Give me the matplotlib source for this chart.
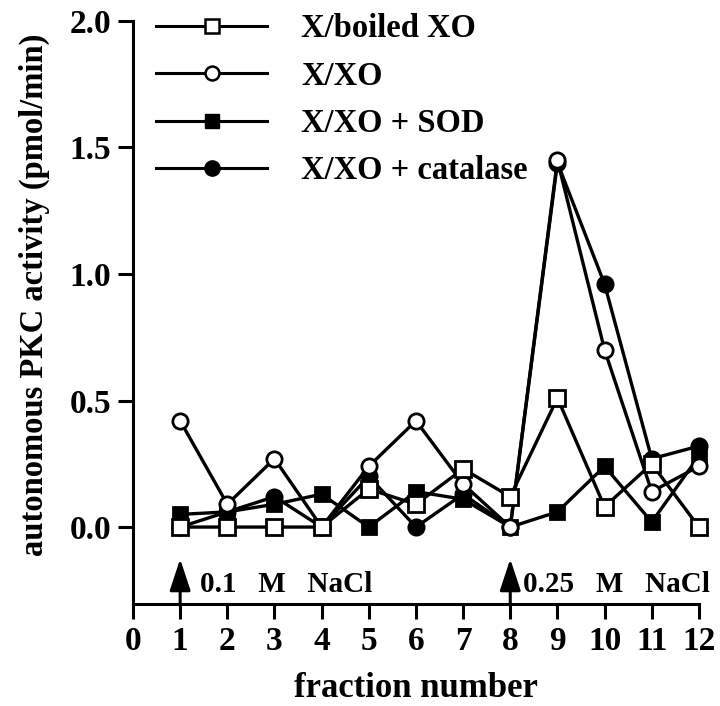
import matplotlib.pyplot as plt
from matplotlib.lines import Line2D

plt.rcParams['font.family'] = ['Liberation Serif', 'DejaVu Serif']
plt.rcParams['font.weight'] = 'bold'

fractions = [1, 2, 3, 4, 5, 6, 7, 8, 9, 10, 11, 12]
boiled_xo = [0.0, 0.0, 0.0, 0.0, 0.15, 0.09, 0.23, 0.12, 0.51, 0.08, 0.25, 0.0]
x_xo = [0.42, 0.09, 0.27, 0.0, 0.24, 0.42, 0.17, 0.0, 1.45, 0.70, 0.14, 0.24]
x_xo_sod = [0.05, 0.06, 0.09, 0.13, 0.0, 0.14, 0.11, 0.0, 0.06, 0.24, 0.02, 0.28]
x_xo_catalase = [0.0, 0.06, 0.12, 0.0, 0.20, 0.0, 0.13, 0.0, 1.44, 0.96, 0.27, 0.32]

labels = ["X/boiled XO", "X/XO", "X/XO + SOD", "X/XO + catalase"]
x_ticks = list(range(0, 13))
y_ticks = [0.0, 0.5, 1.0, 1.5, 2.0]
salt_steps = [1, 8]
salt_labels = ["0.1   M   NaCl", "0.25   M   NaCl"]

fig = plt.figure(figsize=(7.2, 7.06), dpi=100)
ax = fig.add_axes([0.1847, 0.1445, 0.786, 0.8258])

lw = 2.4
ms = 11
mew = 2.0
# drawing order chosen so the overlaps look like the original
ax.plot(fractions, x_xo_sod, color='black', lw=lw, marker='s', ms=ms - 1,
        mfc='black', mec='black', mew=mew, zorder=2, clip_on=False)
ax.plot(fractions, x_xo_catalase, color='black', lw=lw, marker='o', ms=ms,
        mfc='black', mec='black', mew=mew, zorder=3, clip_on=False)
ax.plot(fractions, x_xo, color='black', lw=lw, marker='o', ms=ms,
        mfc='white', mec='black', mew=mew, zorder=4, clip_on=False)
ax.plot(fractions, boiled_xo, color='black', lw=lw, marker='s', ms=ms,
        mfc='white', mec='black', mew=mew, zorder=5, clip_on=False)

handles = [
    Line2D([], [], color='black', lw=2.2, marker='s', ms=10, mfc='white', mec='black', mew=1.8),
    Line2D([], [], color='black', lw=2.2, marker='o', ms=10, mfc='white', mec='black', mew=1.8),
    Line2D([], [], color='black', lw=2.2, marker='s', ms=10, mfc='black', mec='black'),
    Line2D([], [], color='black', lw=2.2, marker='o', ms=11, mfc='black', mec='black'),
]
ax.legend(handles, labels, loc='upper left', bbox_to_anchor=(0.041, 1.013),
          frameon=False, fontsize=23.5, handlelength=3.4, handletextpad=1.05,
          labelspacing=0.5, borderpad=0, borderaxespad=0)

# salt step arrows
for xa, txt, tx in zip(salt_steps, salt_labels, [1.42, 8.26]):
    ax.annotate("", xy=(xa, -0.126), xytext=(xa, -0.304),
                arrowprops=dict(arrowstyle='-|>,head_length=0.97,head_width=0.32',
                                color='black', lw=2.2, mutation_scale=20,
                                shrinkA=0, shrinkB=0))
    ax.text(tx, -0.257, txt, fontsize=21, fontweight='bold', va='baseline')

ax.set_xlim(0, 12)
ax.set_ylim(-0.304, 2.0)
ax.set_xticks(x_ticks)
ax.set_xticklabels([str(t) for t in x_ticks])
ax.set_yticks(y_ticks)
ax.set_yticklabels(["%.1f" % t for t in y_ticks])
ax.spines['top'].set_visible(False)
ax.spines['right'].set_visible(False)
ax.spines['left'].set_linewidth(2.2)
ax.spines['bottom'].set_linewidth(2.2)
ax.tick_params(axis='both', direction='out', length=10.5, width=2.2, labelsize=24, pad=5)

ax.set_xlabel("fraction number", fontsize=25, fontweight='bold')
ax.xaxis.set_label_coords(0.5, -0.117)
ax.set_ylabel("autonomous PKC activity (pmol/min)", fontsize=23.5, fontweight='bold')
ax.yaxis.set_label_coords(-0.147, 0.53)

fig.savefig("out.png", dpi=100)
